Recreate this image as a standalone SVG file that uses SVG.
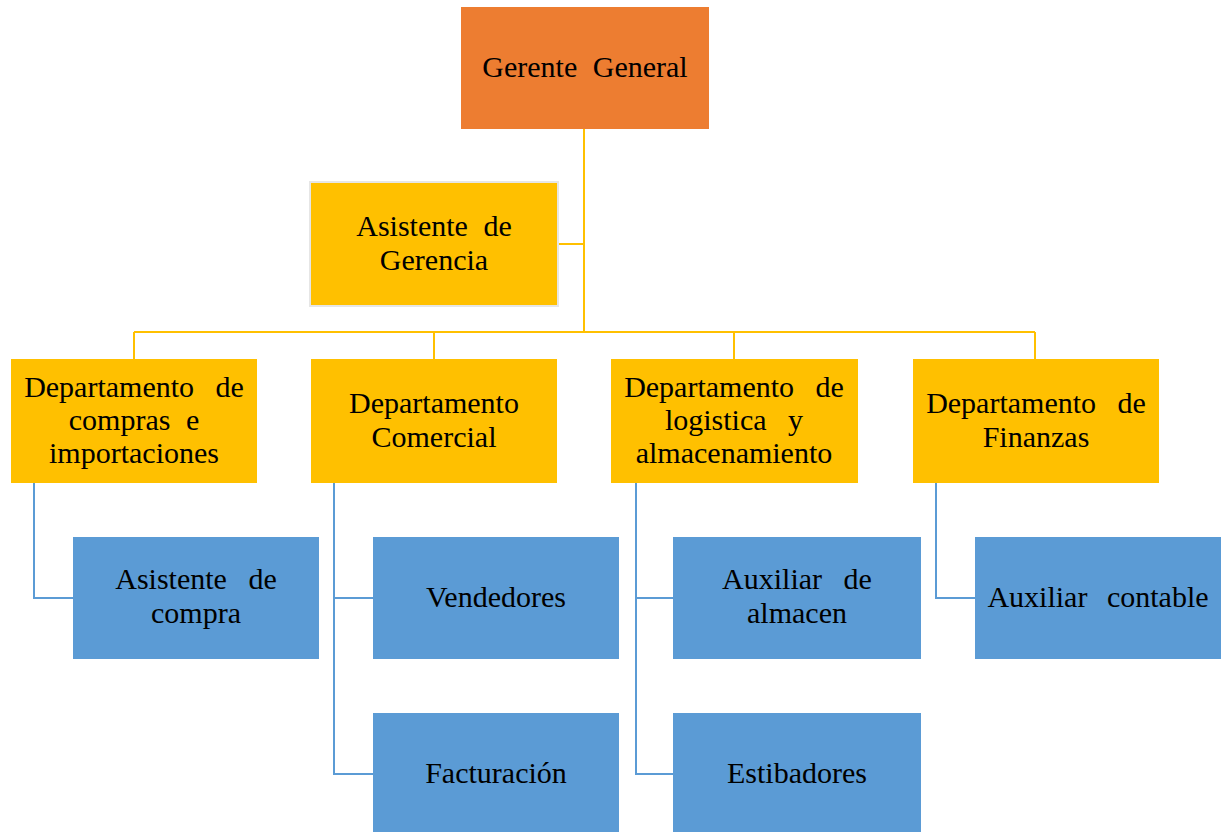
<svg xmlns="http://www.w3.org/2000/svg" width="1221" height="832" viewBox="0 0 1221 832">
<style>
.t{font-family:"Liberation Serif","Times New Roman",serif;font-size:30px;fill:#000;text-anchor:middle;word-spacing:8px}
.org{fill:#ED7D31}
.yel{fill:#FFC000}
.blu{fill:#5B9BD5}
.cy{stroke:#FFC000;stroke-width:2;fill:none}
.cb{stroke:#5B9BD5;stroke-width:2;fill:none}
</style>
<rect width="1221" height="832" fill="#fff"/>
<g id="connectors">
<path class="cy" d="M584 129V332M558 244H584M134 332H1035M134 332V359M434 332V359M734 332V359M1035 332V359"/>
<path class="cb" d="M34 483V598H73M334 483V598H373M334 598V774H373M636 483V598H673M636 598V774H673M936 483V598H975"/>
</g>
<g id="gerente"><rect class="org" x="461" y="7" width="248" height="122"/><text class="t" x="585" y="77">Gerente General</text></g>
<g id="asistente-gerencia"><rect class="yel" x="310" y="182" width="248" height="124" stroke="#E6E6E6" stroke-width="2"/><text class="t" x="434" y="236">Asistente de</text><text class="t" x="434" y="270">Gerencia</text></g>
<g id="dep-compras"><rect class="yel" x="11" y="359" width="246" height="124"/><text class="t" x="134" y="397" style="word-spacing:14px">Departamento de</text><text class="t" x="134" y="430">compras e</text><text class="t" x="134" y="463">importaciones</text></g>
<g id="dep-comercial"><rect class="yel" x="311" y="359" width="246" height="124"/><text class="t" x="434" y="413">Departamento</text><text class="t" x="434" y="447">Comercial</text></g>
<g id="dep-logistica"><rect class="yel" x="611" y="359" width="247" height="124"/><text class="t" x="734" y="397" style="word-spacing:14px">Departamento de</text><text class="t" x="734" y="430" style="word-spacing:14px">logistica y</text><text class="t" x="734" y="463">almacenamiento</text></g>
<g id="dep-finanzas"><rect class="yel" x="913" y="359" width="246" height="124"/><text class="t" x="1036" y="413" style="word-spacing:14px">Departamento de</text><text class="t" x="1036" y="447">Finanzas</text></g>
<g id="asistente-compra"><rect class="blu" x="73" y="537" width="246" height="122"/><text class="t" x="196" y="589" style="word-spacing:14px">Asistente de</text><text class="t" x="196" y="623">compra</text></g>
<g id="vendedores"><rect class="blu" x="373" y="537" width="246" height="122"/><text class="t" x="496" y="607">Vendedores</text></g>
<g id="facturacion"><rect class="blu" x="373" y="713" width="246" height="122"/><text class="t" x="496" y="783">Facturación</text></g>
<g id="auxiliar-almacen"><rect class="blu" x="673" y="537" width="248" height="122"/><text class="t" x="797" y="589" style="word-spacing:14px">Auxiliar de</text><text class="t" x="797" y="623">almacen</text></g>
<g id="estibadores"><rect class="blu" x="673" y="713" width="248" height="122"/><text class="t" x="797" y="783">Estibadores</text></g>
<g id="auxiliar-contable"><rect class="blu" x="975" y="537" width="246" height="122"/><text class="t" x="1098" y="607" style="word-spacing:12px">Auxiliar contable</text></g>
</svg>
